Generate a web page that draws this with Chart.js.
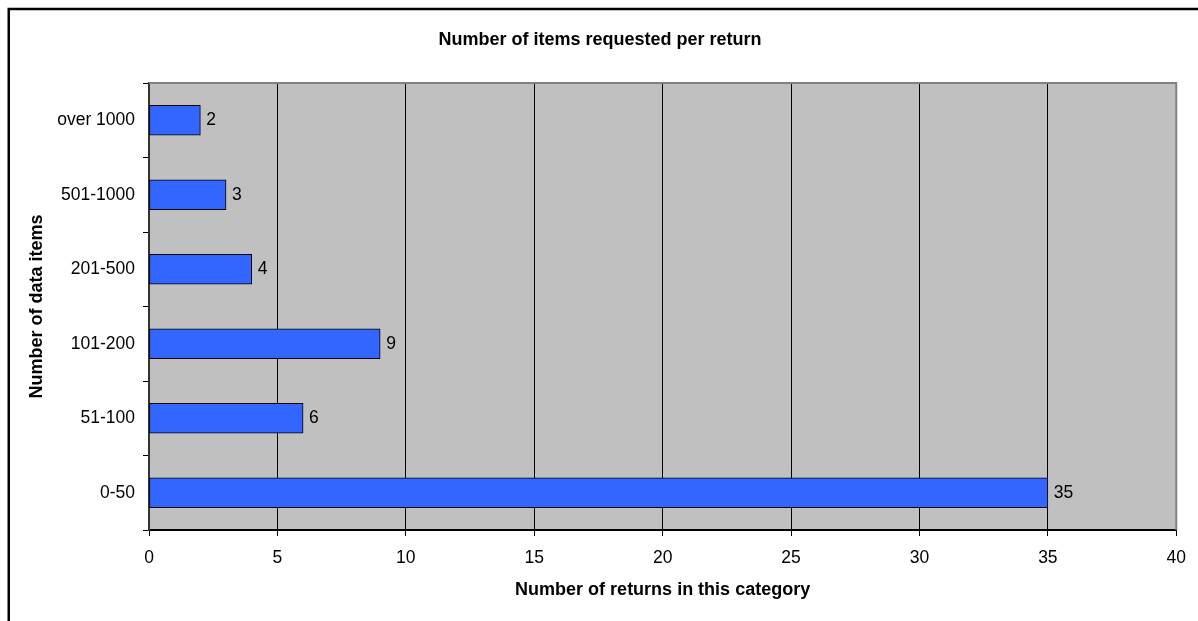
<!DOCTYPE html>
<html>
<head>
<meta charset="utf-8">
<script src="https://cdn.jsdelivr.net/npm/chart.js@4/dist/chart.umd.min.js"></script>
<style>
  html, body { margin: 0; padding: 0; background: #fff; }
  #wrap { width: 1198px; height: 621px; position: relative; }
</style>
</head>
<body>
<div id="wrap"><canvas id="returnsChart"></canvas></div>
<script>
// Data
const categories = ["0-50", "51-100", "101-200", "201-500", "501-1000", "over 1000"];
const returnCounts = [35, 6, 9, 4, 3, 2];
const xTickMin = 0;
const xTickMax = 40;
const xTickStep = 5;

const FONT = "'Liberation Sans', Arial, sans-serif";

// Grey plot background, grey top/right border and the outer frame
const plotFrame = {
  id: "plotFrame",
  beforeDraw(chart) {
    const { ctx, chartArea: a } = chart;
    ctx.save();
    ctx.fillStyle = "#C0C0C0";
    ctx.fillRect(a.left, a.top, a.right - a.left, a.bottom - a.top);
    ctx.restore();
  },
  afterDraw(chart) {
    const { ctx, chartArea: a, width, height } = chart;
    ctx.save();
    ctx.strokeStyle = "#808080";
    ctx.lineWidth = 2;
    ctx.beginPath();
    ctx.moveTo(a.left, a.top);
    ctx.lineTo(a.right, a.top);
    ctx.lineTo(a.right, a.bottom);
    ctx.stroke();
    // outer chart frame (cut off at right and bottom)
    ctx.strokeStyle = "#000";
    ctx.lineWidth = 2.5;
    ctx.beginPath();
    ctx.moveTo(8.75, height + 2);
    ctx.lineTo(8.75, 9);
    ctx.lineTo(width + 2, 9);
    ctx.stroke();
    ctx.restore();
  },
};

// Value labels to the right of each bar
const valueLabels = {
  id: "valueLabels",
  afterDatasetsDraw(chart) {
    const { ctx } = chart;
    const meta = chart.getDatasetMeta(0);
    ctx.save();
    ctx.font = "17.5px " + FONT;
    ctx.fillStyle = "#000";
    ctx.textAlign = "left";
    ctx.textBaseline = "middle";
    meta.data.forEach((bar, i) => {
      ctx.fillText(String(returnCounts[i]), bar.x + 6, bar.y);
    });
    ctx.restore();
  },
};

const ctx = document.getElementById("returnsChart");
new Chart(ctx, {
  type: "bar",
  data: {
    labels: categories,
    datasets: [
      {
        data: returnCounts,
        backgroundColor: "#3366FF",
        borderColor: "#000",
        borderWidth: 1,
        borderSkipped: false,
        barThickness: 30,
      },
    ],
  },
  options: {
    indexAxis: "y",
    responsive: true,
    maintainAspectRatio: false,
    animation: false,
    layout: { padding: { top: 0, right: 21, bottom: 0, left: 23 } },
    plugins: {
      legend: { display: false },
      tooltip: { enabled: false },
      title: {
        display: true,
        text: "Number of items requested per return",
        color: "#000",
        font: { family: FONT, size: 18, weight: "bold" },
        padding: { top: 29, bottom: 32.4 },
      },
    },
    scales: {
      x: {
        min: xTickMin,
        max: xTickMax,
        afterFit(scale) {
          scale.height = 91;
        },
        ticks: {
          stepSize: xTickStep,
          color: "#000",
          padding: 12,
          font: { family: FONT, size: 17.5 },
        },
        grid: {
          color: (c) => (c.tick && c.tick.value === xTickMax ? "rgba(0,0,0,0)" : "#000"),
          tickColor: "#000",
          tickLength: 6,
          lineWidth: 1,
        },
        border: { display: true, color: "#000", width: 2 },
        title: {
          display: true,
          text: "Number of returns in this category",
          color: "#000",
          font: { family: FONT, size: 18, weight: "bold" },
          padding: { top: 0, bottom: 20 },
        },
      },
      y: {
        reverse: true,
        afterFit(scale) {
          scale.width = 126;
        },
        ticks: {
          color: "#000",
          padding: 8,
          font: { family: FONT, size: 17.5 },
        },
        grid: {
          offset: true,
          drawOnChartArea: false,
          drawTicks: true,
          tickLength: 6,
          tickColor: "#000",
        },
        border: { display: true, color: "#333", width: 2 },
        title: {
          display: true,
          text: "Number of data items",
          color: "#000",
          font: { family: FONT, size: 18, weight: "bold" },
          padding: { top: 3, bottom: 0 },
        },
      },
    },
  },
  plugins: [plotFrame, valueLabels],
});
</script>
</body>
</html>
